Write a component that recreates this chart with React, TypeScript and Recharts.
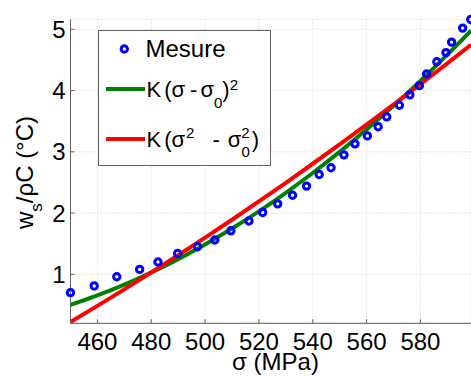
import React from 'react';
import { ComposedChart, Line, Scatter, XAxis, YAxis, CartesianGrid, Legend, Label } from 'recharts';

const measureStress = [450, 458.8, 467.2, 475.7, 482.5, 489.8, 497.2, 503.6, 509.6, 516.3, 521.4, 527, 532.5, 537.7, 542.4, 546.8, 551.6, 555.7, 560.3, 564.3, 567.5, 572.2, 576.1, 579.6, 582.3, 586.1, 589.5, 591.6, 595.7, 598.7];
const measureValue = [0.70, 0.81, 0.96, 1.08, 1.20, 1.34, 1.45, 1.56, 1.71, 1.87, 2.01, 2.15, 2.29, 2.44, 2.63, 2.74, 2.95, 3.13, 3.26, 3.41, 3.57, 3.76, 3.93, 4.08, 4.27, 4.47, 4.62, 4.79, 5.02, 5.16];

const fitStress = [450, 460, 470, 480, 490, 500, 510, 520, 530, 540, 550, 560, 570, 580, 590, 598.8];
const fitSquareOfDiff = [0.500, 0.655, 0.832, 1.029, 1.247, 1.487, 1.747, 2.028, 2.331, 2.654, 2.998, 3.364, 3.750, 4.157, 4.586, 4.980];
const fitDiffOfSquares = [0.220, 0.484, 0.754, 1.029, 1.311, 1.598, 1.891, 2.190, 2.494, 2.805, 3.121, 3.443, 3.771, 4.104, 4.444, 4.747];

const xTicks = [460, 480, 500, 520, 540, 560, 580];
const yTicks = [1, 2, 3, 4, 5];
const xDomain: [number, number] = [450, 598.8];
const yDomain: [number, number] = [0.2, 5.16];

const measureData = measureStress.map((x, i) => ({ x, y: measureValue[i] }));
const greenData = fitStress.map((x, i) => ({ x, y: fitSquareOfDiff[i] }));
const redData = fitStress.map((x, i) => ({ x, y: fitDiffOfSquares[i] }));

const FONT = '"Liberation Sans", Arial, sans-serif';
const AXIS = '#606060';
const TEXT = '#000000';
const BLUE = '#0000ff';
const GREEN = '#008000';
const RED = '#ff0000';

const Ring = (props: any) => {
  const { cx, cy } = props;
  if (cx == null || cy == null) return null;
  return <circle cx={cx} cy={cy} r={3.2} fill="none" stroke={BLUE} strokeWidth={3} />;
};

const LegendBox = () => (
  <svg width={174} height={137} style={{ display: 'block', fontFamily: FONT }}>
    <rect x={0.5} y={0.5} width={172} height={135} fill="#ffffff" stroke={AXIS} strokeWidth={1} />
    <circle cx={26.3} cy={19} r={3.2} fill="none" stroke={BLUE} strokeWidth={3} />
    <text x={47.5} y={26.7} fontSize={24} fill={TEXT}>Mesure</text>
    <line x1={8} x2={47} y1={59} y2={59} stroke={GREEN} strokeWidth={4} />
    <text x={48.5} y={66.7} fontSize={22} fill={TEXT}>
      <tspan>K</tspan>
      <tspan dx={3}>(</tspan>
      <tspan>σ</tspan>
      <tspan dx={5}>-</tspan>
      <tspan dx={3}>σ</tspan>
      <tspan dy={11.6} fontSize={15}>0</tspan>
      <tspan dy={-11.6}>)</tspan>
      <tspan dy={-6.7} fontSize={15}>2</tspan>
    </text>
    <line x1={8} x2={47} y1={109} y2={109} stroke={RED} strokeWidth={4} />
    <text x={48.5} y={116.7} fontSize={22} fill={TEXT}>
      <tspan>K</tspan>
      <tspan dx={3}>(</tspan>
      <tspan>σ</tspan>
      <tspan dx={1} dy={-8.4} fontSize={15}>2</tspan>
      <tspan dx={18} dy={8.4}>-</tspan>
      <tspan dx={8}>σ</tspan>
      <tspan dy={-8.4} fontSize={15}>2</tspan>
      <tspan dx={-8.3} dy={18.4} fontSize={15}>0</tspan>
      <tspan dx={2} dy={-10}>)</tspan>
    </text>
  </svg>
);

export default function App() {
  return (
    <div style={{ position: 'absolute', left: 0, top: 0, width: 471, height: 378, background: '#ffffff' }}>
      <ComposedChart
        width={471}
        height={378}
        margin={{ top: 19.5, right: 0, bottom: 0, left: 0 }}
        style={{ fontFamily: FONT }}
      >
        <CartesianGrid stroke="#cfcfcf" strokeDasharray="1 2" />
        <XAxis
          dataKey="x"
          type="number"
          domain={xDomain}
          ticks={xTicks}
          interval={0}
          height={54.7}
          tickSize={-4}
          tickMargin={13.7}
          axisLine={{ stroke: AXIS }}
          tickLine={{ stroke: AXIS }}
          tick={{ fill: TEXT, fontSize: 24, fontFamily: FONT }}
        >
          <Label
            content={() => (
              <text x={275.5} y={370} textAnchor="middle" fontSize={24} fill={TEXT} fontFamily={FONT}>
                σ (MPa)
              </text>
            )}
          />
        </XAxis>
        <XAxis
          xAxisId="top"
          orientation="top"
          type="number"
          domain={xDomain}
          allowDataOverflow
          ticks={xTicks}
          interval={0}
          mirror
          height={0}
          tick={false}
          tickSize={4}
          axisLine={{ stroke: AXIS }}
          tickLine={{ stroke: AXIS }}
        />
        <YAxis
          dataKey="y"
          type="number"
          domain={yDomain}
          ticks={yTicks}
          interval={0}
          width={70.5}
          tickSize={-4}
          tickMargin={9}
          axisLine={{ stroke: AXIS }}
          tickLine={{ stroke: AXIS }}
          tick={{ fill: TEXT, fontSize: 24, fontFamily: FONT }}
        >
          <Label
            content={() => (
              <text transform="rotate(-90)" x={-172.5} y={33} textAnchor="middle" fontSize={24} fill={TEXT} fontFamily={FONT}>
                w<tspan dy={9} fontSize={17}>s</tspan>
                <tspan dy={-9}>/ρC (°C)</tspan>
              </text>
            )}
          />
        </YAxis>
        <YAxis
          yAxisId="right"
          orientation="right"
          type="number"
          domain={yDomain}
          allowDataOverflow
          ticks={yTicks}
          interval={0}
          mirror
          width={0}
          tick={false}
          tickSize={4}
          axisLine={false}
          tickLine={{ stroke: AXIS }}
        />
        <Scatter
          name="Mesure"
          data={measureData}
          dataKey="y"
          shape={<Ring />}
          isAnimationActive={false}
        />
        <Line
          name="K (σ - σ0)^2"
          data={greenData}
          dataKey="y"
          type="monotone"
          stroke={GREEN}
          strokeWidth={4}
          dot={false}
          activeDot={false}
          isAnimationActive={false}
        />
        <Line
          name="K (σ^2 - σ0^2)"
          data={redData}
          dataKey="y"
          type="monotone"
          stroke={RED}
          strokeWidth={4}
          dot={false}
          activeDot={false}
          isAnimationActive={false}
        />
        <Legend
          layout="vertical"
          verticalAlign="middle"
          align="center"
          wrapperStyle={{ left: 98, top: 30, width: 174, height: 137 }}
          content={() => <LegendBox />}
        />
      </ComposedChart>
    </div>
  );
}
